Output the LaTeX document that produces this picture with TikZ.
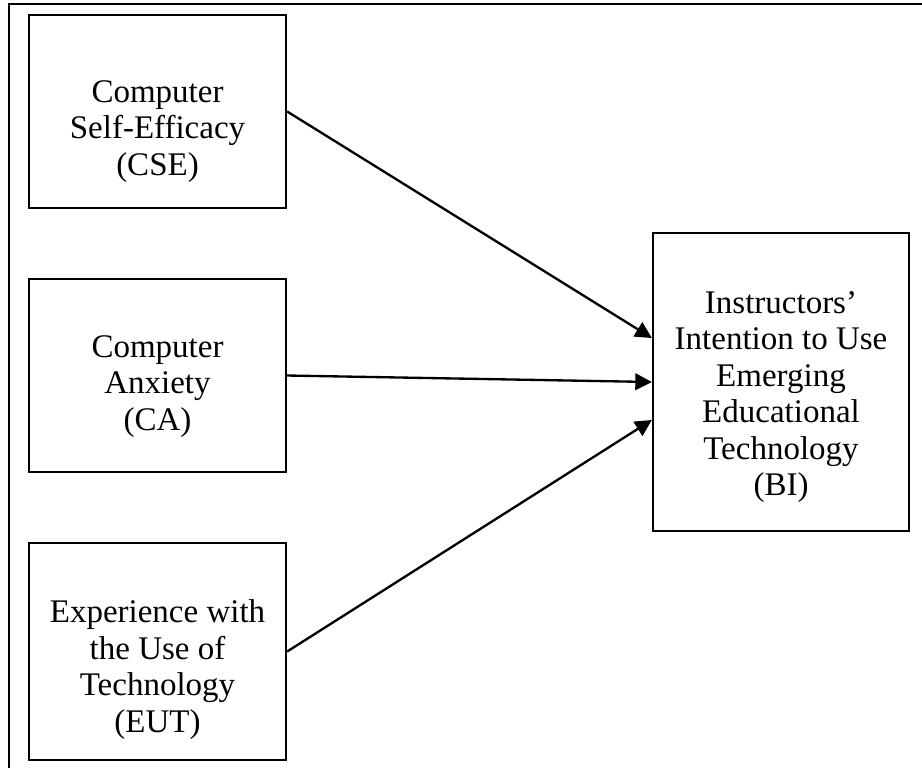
\documentclass[tikz,border=0pt]{standalone}
\usepackage{fontspec}
\setmainfont{Liberation Serif}
\usetikzlibrary{arrows.meta,calc}
\newcommand\px{0.36364pt}
\begin{document}
\begin{tikzpicture}[x=\px,y=-\px,
  box/.style={draw,line width=0.85pt,inner sep=0pt,minimum width=257*\px},
  lbl/.style={align=center,inner sep=0pt,font=\fontsize{12}{13.3}\selectfont},
  arr/.style={line width=0.85pt,-{Triangle[length=6pt,width=6pt]}}]
\useasboundingbox (0,0) rectangle (922,768);
\coordinate (frtop) at (922,4);
\coordinate (frcorner) at (9,4);
\coordinate (frbot) at (9,768);
\draw[line width=0.85pt] (frtop) -- (frcorner) -- (frbot);
\node[box,minimum height=193*\px] (cse) at (157.5,111.5) {};
\node[box,minimum height=193*\px] (ca) at (157.5,375.5) {};
\node[box,minimum height=217*\px] (eut) at (157.5,651.5) {};
\node[box,minimum width=256*\px,minimum height=298*\px] (bi) at (781,382) {};
\node[lbl] (csetxt) at ($(cse.center)+(0,20)$) {Computer\\Self-Efficacy\\(CSE)};
\node[lbl] (catxt) at ($(ca.center)+(0,11)$) {Computer\\Anxiety\\(CA)};
\node[lbl] (euttxt) at ($(eut.center)+(0,18)$) {Experience with\\the Use of\\Technology\\(EUT)};
\node[lbl] (bitxt) at ($(bi.center)+(0,15)$) {Instructors'\\Intention to Use\\Emerging\\Educational\\Technology\\(BI)};
\coordinate (bi1) at ($(bi.west)+(0,-44)$);
\coordinate (bi3) at ($(bi.west)+(0,38)$);
\draw[arr] (cse.east) -- (bi1);
\draw[arr] (ca.east) -- (bi.west);
\draw[arr] (eut.east) -- (bi3);
\end{tikzpicture}
\end{document}
